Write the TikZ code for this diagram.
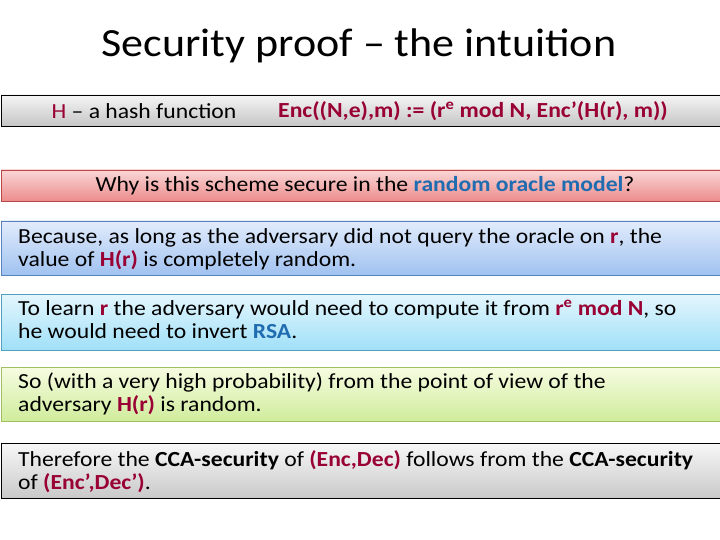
\documentclass[tikz,border=0pt]{standalone}
\usepackage{fontspec}
\setmainfont[FakeStretch=1.1]{Carlito}
\definecolor{dred}{HTML}{990033}
\definecolor{dblue}{HTML}{1F6CB0}
\begin{document}
\begin{tikzpicture}[x=1pt,y=-1pt,
  bar/.style={draw, line width=0.6pt},
  txt/.style={font=\fontsize{21.5}{23}\selectfont, inner sep=0pt, align=left, anchor=north west}]
\useasboundingbox (0,0) rectangle (720,540);
\node[font=\fontsize{40}{44}\selectfont, inner sep=0pt] (title) at (359,46) {Security proof – the intuition};
\shade[bar, draw=black, top color=gray!8, bottom color=gray!45] (1,95) rectangle (722,126);
\node[font=\fontsize{21.5}{23}\selectfont, inner sep=0pt] (h) at (144,111) {\textcolor{dred}{H} – a hash function};
\node[font=\fontsize{21.5}{23}\selectfont\bfseries, inner sep=0pt, text=dred] (enc) at (473,111) {Enc((N,e),m) := (r\textsuperscript{e} mod N, Enc’(H(r), m))};
\shade[bar, draw=red!45!gray, top color={rgb,255:red,250;green,214;blue,214}, bottom color={rgb,255:red,236;green,140;blue,140}] (1,170) rectangle (722,201);
\node[font=\fontsize{21.5}{23}\selectfont, inner sep=0pt] (why) at (365,186) {Why is this scheme secure in the \textcolor{dblue}{\bfseries random oracle model}?};
\shade[bar, draw={rgb,255:red,90;green,130;blue,190}, top color={rgb,255:red,226;green,236;blue,252}, bottom color={rgb,255:red,160;green,194;blue,240}] (1,221) rectangle (722,275);
\node[txt] (b1) at (18,228) {Because, as long as the adversary did not query the oracle on \textcolor{dred}{\bfseries r}, the\\ value of \textcolor{dred}{\bfseries H(r)} is completely random.};
\shade[bar, draw={rgb,255:red,80;green,160;blue,190}, top color={rgb,255:red,228;green,246;blue,253}, bottom color={rgb,255:red,160;green,224;blue,248}] (1,294) rectangle (722,350);
\node[txt] (b2) at (18,300) {To learn \textcolor{dred}{\bfseries r} the adversary would need to compute it from \textcolor{dred}{\bfseries r\textsuperscript{e} mod N}, so\\ he would need to invert \textcolor{dblue}{\bfseries RSA}.};
\shade[bar, draw={rgb,255:red,160;green,190;blue,100}, top color={rgb,255:red,246;green,252;blue,226}, bottom color={rgb,255:red,208;green,236;blue,156}] (1,367) rectangle (722,421);
\node[txt] (b3) at (18,373) {So (with a very high probability) from the point of view of the\\ adversary \textcolor{dred}{\bfseries H(r)} is random.};
\shade[bar, draw=black, top color=gray!6, bottom color=gray!42] (1,443) rectangle (722,498);
\node[txt] (b4) at (18,450) {Therefore the \textbf{CCA-security} of \textcolor{dred}{\bfseries (Enc,Dec)} follows from the \textbf{CCA-security}\\ of \textcolor{dred}{\bfseries (Enc’,Dec’)}.};
\end{tikzpicture}
\end{document}
